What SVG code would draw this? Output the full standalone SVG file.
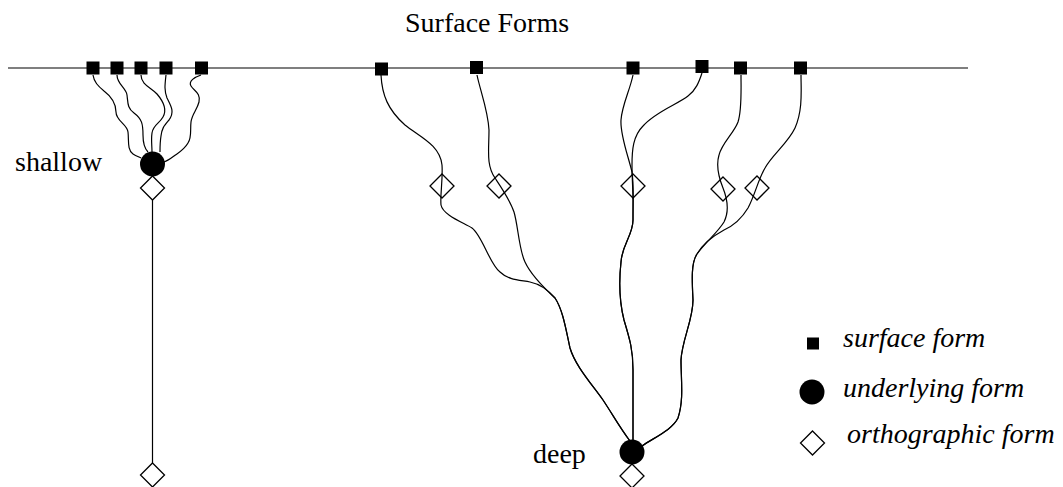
<svg xmlns="http://www.w3.org/2000/svg" width="1063" height="487" viewBox="0 0 1063 487">
<style>
.t{font-family:"Liberation Serif","Times New Roman",serif;font-size:28px;fill:#000}
.it{font-style:italic}
.sq{fill:#000}
.dot{fill:#000}
.dia{fill:#fff;stroke:#000;stroke-width:1.3}
.c{fill:none;stroke:#000;stroke-width:1.2}
</style>
<defs>
<rect id="sqr" x="-6.5" y="-6.5" width="13" height="13" class="sq"/>
<path id="dm" d="M0,-12 L12,0 L0,12 L-12,0 Z" class="dia"/>
</defs>
<rect width="1063" height="487" fill="#fff"/>
<text class="t" x="405" y="32">Surface Forms</text>
<line x1="8" y1="68" x2="968" y2="68" stroke="#000" stroke-width="1.2"/>

<g id="orth-nodes">
<use href="#dm" x="152.5" y="188"/>
<use href="#dm" x="152.5" y="475"/>
<use href="#dm" x="442" y="186"/>
<use href="#dm" x="499" y="186"/>
<use href="#dm" x="633" y="186"/>
<use href="#dm" x="723" y="189"/>
<use href="#dm" x="757" y="188"/>
<use href="#dm" x="632" y="476"/>
</g>

<g id="connectors">
<path class="c" d="M93,75 C94,82 98,86 104,91 C112,97 116,103 116,112 C116,121 127,124 128,132 C129,140 127,150 133,154 C136,156 139,157 141,158"/>
<path class="c" d="M117,75 C117,84 126,88 127,95 C128,102 127,108 134,113 C142,119 143,124 143,135 C143,145 146,150 148,152"/>
<path class="c" d="M141,75 C141,85 152,88 157,94 C163,101 167,110 163,117 C159,124 153,125 152,133 C151,140 152,146 152,152"/>
<path class="c" d="M166,75 C165,84 164,90 167,98 C171,106 175,112 169,120 C164,126 162,128 161,136 C160,142 160,147 160,152"/>
<path class="c" d="M201,75 C195,77 188,81 191,86 C194,91 201,93 199,102 C197,110 192,114 191,122 C190,130 192,137 188,143 C184,150 178,153 174,156 C170,159 167,161 164,162"/>
<line class="c" x1="152.5" y1="200" x2="152.5" y2="463"/>
<path class="c" d="M381,75 C382,95 388,110 405,125 C420,137 440,145 442,165 C443,180 440,195 441,205 C443,215 462,222 472,228 C482,235 490,265 500,272 C508,280 520,280 530,282 C540,284 548,290 555,298 C563,310 566,330 570,348 C575,365 590,382 603,400 C613,415 620,428 630,441"/>
<path class="c" d="M477,75 C480,90 488,110 489,130 C489,150 486,165 495,178 C503,190 510,200 514,212 C518,225 519,250 525,262 C531,275 543,287 555,298 C563,310 566,330 570,348 C575,365 590,382 603,400 C613,415 620,428 630,441"/>
<path class="c" d="M633,75 C630,90 622,105 621,120 C620,135 628,155 632,172 C634,185 633,200 633,220 C633,235 622,245 621,262 C619,280 619,300 624,320 C630,340 633,350 633,370 L633,440"/>
<path class="c" d="M702,73 C699,82 696,90 688,96 C678,104 655,112 643,126 C633,136 632,150 632,165 C632,178 633,190 633,200 C633,210 633,215 633,220 C633,235 622,245 621,262 C619,280 619,300 624,320 C630,340 633,350 633,370 L633,440"/>
<path class="c" d="M741,75 C741,90 742,110 738,122 C734,133 722,143 719,155 C716,165 719,178 723,188 C727,198 730,210 724,222 C718,232 705,243 697,254 C691,263 692,280 693,300 C693,320 682,340 681,360 C681,380 684,400 678,418 C672,430 655,437 642,446"/>
<path class="c" d="M801,75 C801,90 803,110 795,128 C788,143 772,155 765,168 C758,180 755,195 748,208 C742,218 735,225 724,230 C713,236 702,245 697,254 C691,263 692,280 693,300 C693,320 682,340 681,360 C681,380 684,400 678,418 C672,430 655,437 642,446"/>
</g>

<g id="surface-nodes">
<use href="#sqr" x="93" y="68"/>
<use href="#sqr" x="117" y="68"/>
<use href="#sqr" x="141" y="68"/>
<use href="#sqr" x="166" y="68"/>
<use href="#sqr" x="201.5" y="68"/>
<use href="#sqr" x="381.5" y="69"/>
<use href="#sqr" x="476.5" y="67.5"/>
<use href="#sqr" x="633" y="68"/>
<use href="#sqr" x="702" y="66.5"/>
<use href="#sqr" x="740.5" y="68"/>
<use href="#sqr" x="800.5" y="68"/>
</g>

<g id="shallow">
<circle class="dot" cx="152.5" cy="164" r="12.5"/>
<text class="t" x="15" y="171">shallow</text>
</g>
<g id="deep">
<circle class="dot" cx="632" cy="452" r="12.5"/>
<text class="t" x="533" y="463">deep</text>
</g>

<g id="legend">
<rect x="807" y="337.5" width="12" height="12" class="sq"/>
<text class="t it" x="843" y="347">surface form</text>
<circle class="dot" cx="812" cy="392" r="12.5"/>
<text class="t it" x="843" y="397">underlying form</text>
<use href="#dm" x="812.5" y="443"/>
<text class="t it" x="847" y="443">orthographic form</text>
</g>
</svg>
